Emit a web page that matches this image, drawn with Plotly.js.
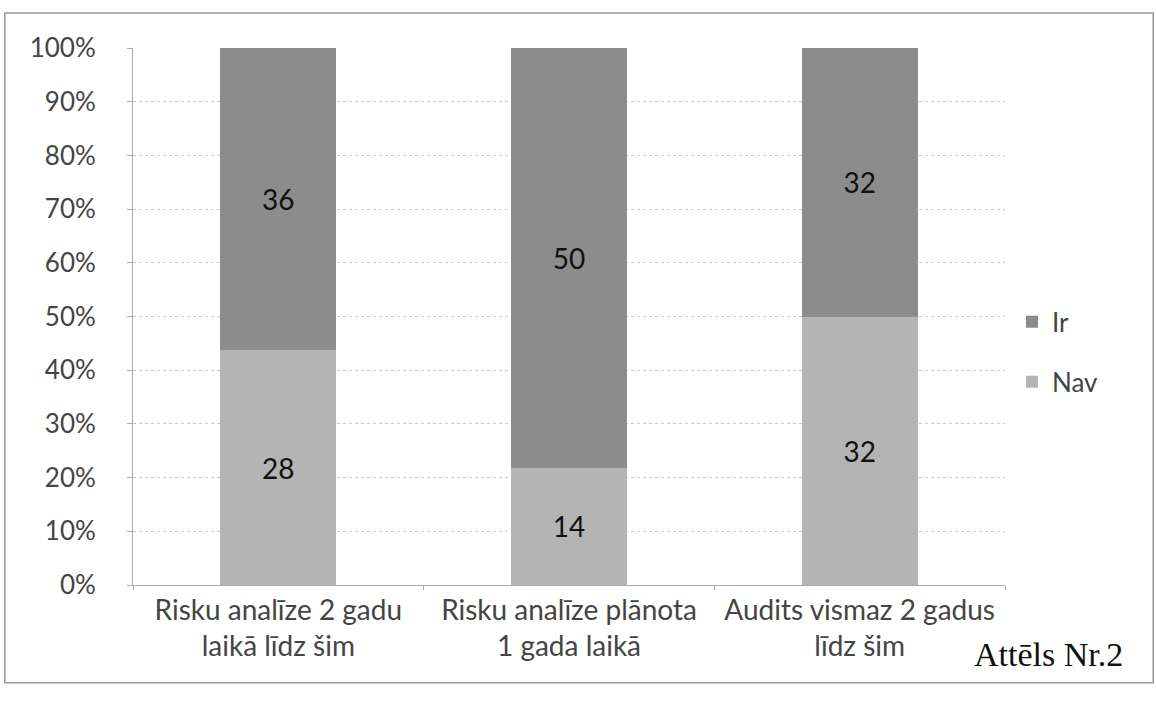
<!DOCTYPE html>
<html>
<head>
<meta charset="utf-8">
<script src="https://cdn.plot.ly/plotly-3.0.1.min.js"></script>
<style>html,body{margin:0;padding:0;background:#fff;}#chart{width:1156px;height:705px;}</style>
</head>
<body>
<div id="chart"></div>
<script>
const categories = ["Risku analīze 2 gadu<br>laikā līdz šim", "Risku analīze plānota<br>1 gada laikā", "Audits vismaz 2 gadus<br>līdz šim"];
const navValues = [28, 14, 32];
const irValues = [36, 50, 32];
const yTickVals = [0, 10, 20, 30, 40, 50, 60, 70, 80, 90, 100];
const yTickText = ["0%", "10%", "20%", "30%", "40%", "50%", "60%", "70%", "80%", "90%", "100%"];

const font = "Lato, 'Open Sans', sans-serif";
const traces = [
  {type: "bar", name: "Nav", x: categories, y: navValues, text: navValues, texttemplate: "%{text}",
   textposition: "inside", insidetextanchor: "middle", textfont: {size: 28, color: "#111", family: font},
   marker: {color: "#b4b4b4"}, legendgroup: "nav", legendrank: 2, hoverinfo: "skip"},
  {type: "bar", name: "Ir", x: categories, y: irValues, text: irValues, texttemplate: "%{text}",
   textposition: "inside", insidetextanchor: "middle", textfont: {size: 28, color: "#111", family: font},
   marker: {color: "#8c8c8c"}, legendgroup: "ir", legendrank: 1, hoverinfo: "skip"}
];

const layout = {
  width: 1156, height: 705,
  margin: {l: 133, r: 151, t: 48, b: 120},
  paper_bgcolor: "#fff", plot_bgcolor: "#fff",
  barmode: "stack", barnorm: "percent", bargap: 0.6,
  font: {family: font, size: 26, color: "#444"},
  xaxis: {type: "category", showgrid: false, showline: true, linecolor: "#aaa", linewidth: 1,
          ticks: "outside", tickson: "boundaries", ticklen: 4, tickcolor: "#aaa",
          tickfont: {size: 28, color: "#444", family: font}, zeroline: false},
  yaxis: {range: [0, 100], tickvals: yTickVals, ticktext: yTickText, showgrid: true,
          gridcolor: "#c8c8c8", griddash: "dot", gridwidth: 1, showline: true, linecolor: "#aaa",
          ticks: "outside", ticklen: 5, tickcolor: "#aaa", zeroline: false, ticklabelstandoff: 26,
          tickfont: {size: 26, color: "#444", family: font}},
  legend: {x: 1.008, y: 0.434, xanchor: "left", yanchor: "middle", traceorder: "grouped",
           tracegroupgap: 23, font: {size: 26, color: "#444", family: font}, itemwidth: 30},
  annotations: [
    {text: "Attēls Nr.2", xref: "paper", yref: "paper", x: 1.138, y: -0.13, xanchor: "right", yanchor: "middle",
     showarrow: false, font: {family: "'Liberation Serif', 'Times New Roman', serif", size: 34, color: "#111"}}
  ],
  shapes: [
    {type: "rect", xref: "paper", yref: "paper", x0: -0.147, x1: 1.17, y0: -0.182, y1: 1.065,
     line: {color: "#999", width: 1.5}, fillcolor: "rgba(0,0,0,0)"}
  ]
};

Plotly.newPlot("chart", traces, layout, {displayModeBar: false, staticPlot: true});
</script>
</body>
</html>
